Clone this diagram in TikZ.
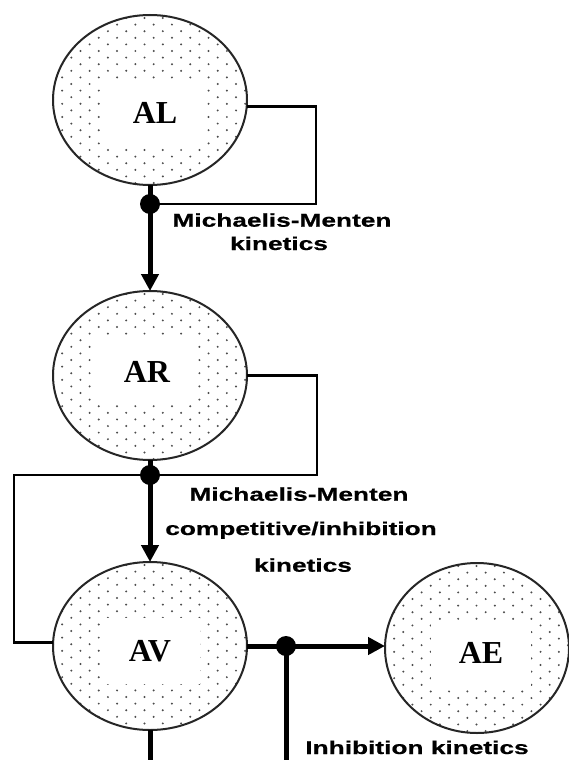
\documentclass[tikz,border=0pt]{standalone}
\usepackage{fontspec}
\setmainfont{Liberation Serif}
\newfontfamily\labfont{Liberation Sans}[FakeStretch=1.42,FakeBold=0.6]
\usetikzlibrary{shapes.geometric,arrows.meta}
\definecolor{dotc}{gray}{0.3}
\newcommand\dotpatch[4]{%
  \begin{scope}
    \clip (#1,#2) ellipse [x radius=#3, y radius=#4];
    \foreach \r in {0,...,26}{
      \foreach \c in {0,...,11}{
        \pgfmathsetmacro\dx{#1-#3+\c*18.3+mod(\r,2)*9.15}
        \pgfmathsetmacro\dy{#2-#4+3+\r*6.6}
        \fill[dotc] (\dx,\dy) circle[radius=1.1];
      }
    }
  \end{scope}}
\begin{document}
\begin{tikzpicture}[x=1pt,y=-1pt,
  blob/.style={ellipse,draw=black!85,line width=2pt,inner sep=0pt,outer sep=0pt},
  tag/.style={fill=white,inner sep=0pt,minimum width=100pt,minimum height=66pt,font=\bfseries\fontsize{32}{36}\selectfont},
  junc/.style={circle,fill=black,inner sep=0pt,minimum size=20pt},
  thickln/.style={line width=5pt},
  thinln/.style={line width=2.8pt},
  tip/.style={-{Triangle[length=17pt,width=17pt]}},
  lab/.style={font=\labfont\bfseries\fontsize{18.5}{20}\selectfont,inner sep=0pt,anchor=base}]
\useasboundingbox[fill=white] (0,0) rectangle (569,760);

% circles
\dotpatch{150}{100}{97}{85}
\node[blob,minimum width=194pt,minimum height=170pt] (AL) at (150,100) {};
\node[tag] (ALt) at (155,113) {AL};

\dotpatch{150}{375.5}{97}{84.5}
\node[blob,minimum width=194pt,minimum height=169pt] (AR) at (150,375.5) {};
\node[tag] (ARt) at (147,372) {AR};

\dotpatch{150}{646}{97}{84}
\node[blob,minimum width=194pt,minimum height=168pt] (AV) at (150,646) {};
\node[tag] (AVt) at (150,651) {AV};

\dotpatch{477}{648}{92}{85}
\node[blob,minimum width=184pt,minimum height=170pt] (AE) at (477,648) {};
\node[tag] (AEt) at (481,653) {AE};

% coordinates
\coordinate (c1) at (150,204);
\coordinate (c2) at (150,475);
\coordinate (c3) at (286,646);
\coordinate (b1) at (150,760);
\coordinate (b2) at (286,760);
\coordinate (k1) at (316,204);
\coordinate (k2) at (317,475);
\coordinate (k3) at (14,475);

% connectors
\draw[thinln] (AL.-4) -| (k1) -- (c1);
\draw[thinln] (AR.east) -| (k2) -- (c2);
\draw[thinln] (AV.178) -| (k3) -- (c2);
\draw[thickln] (AL.south) -- (c1);
\draw[thickln,tip] (c1) -- (AR.north);
\draw[thickln] (AR.south) -- (c2);
\draw[thickln,tip] (c2) -- (AV.north);
\draw[thickln] (AV.south) -- (b1);
\draw[thickln,tip] (AV.east) -- (AE.west |- AV.east);
\draw[thickln] (c3) -- (b2);

% junctions
\node[junc] (j1) at (c1) {};
\node[junc] (j2) at (c2) {};
\node[junc] (j3) at (c3) {};

% labels
\node[lab] (m1) at (282,226.7) {Michaelis-Menten};
\node[lab] (kt1) at (279,250) {kinetics};
\node[lab] (m2) at (299,500.7) {Michaelis-Menten};
\node[lab] (ci) at (301,535) {competitive/inhibition};
\node[lab] (kt2) at (303,571.7) {kinetics};
\node[lab] (ik) at (417,754) {Inhibition kinetics};
\end{tikzpicture}
\end{document}
